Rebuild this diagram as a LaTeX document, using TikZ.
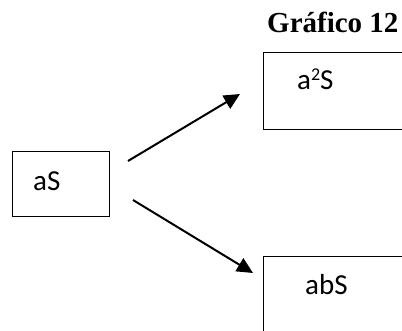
\documentclass[tikz,border=0pt]{standalone}
\usepackage{fontspec}
\setmainfont{Carlito}
\newfontfamily\titlefont{Liberation Serif}
\usetikzlibrary{arrows.meta}
\tikzset{
  box/.style={draw=black, line width=1.4pt, rectangle, inner sep=0pt, anchor=north west},
  lbl/.style={anchor=base west, inner sep=0pt, font=\fontsize{29}{34}\selectfont},
  arr/.style={line width=2pt, -{Triangle[length=16pt,width=15pt]}}
}
\begin{document}
\begin{tikzpicture}[x=1pt,y=-1pt]
\useasboundingbox (0,0) rectangle (402,331);
\clip (0,0) rectangle (402,331);
\node[anchor=base west, inner sep=0pt, font=\titlefont\bfseries\fontsize{29}{33}\selectfont] (title) at (267,33) {Gráfico 12};
\node[box, minimum width=97pt, minimum height=65pt] (boxa) at (12,151) {};
\node[box, minimum width=150pt, minimum height=77pt] (boxb) at (263,52) {};
\node[box, minimum width=150pt, minimum height=90pt] (boxc) at (263,256) {};
\node[lbl] (ta) at (33,191) {aS};
\node[lbl] (tb) at (297,90) {a\raisebox{9pt}{\fontsize{18}{20}\selectfont 2}S};
\node[lbl] (tc) at (305,295) {abS};
\coordinate (s1) at (128,161);
\coordinate (e1) at (240,94);
\coordinate (s2) at (133,200);
\coordinate (e2) at (253,273);
\draw[arr] (s1) -- (e1);
\draw[arr] (s2) -- (e2);
\end{tikzpicture}
\end{document}
